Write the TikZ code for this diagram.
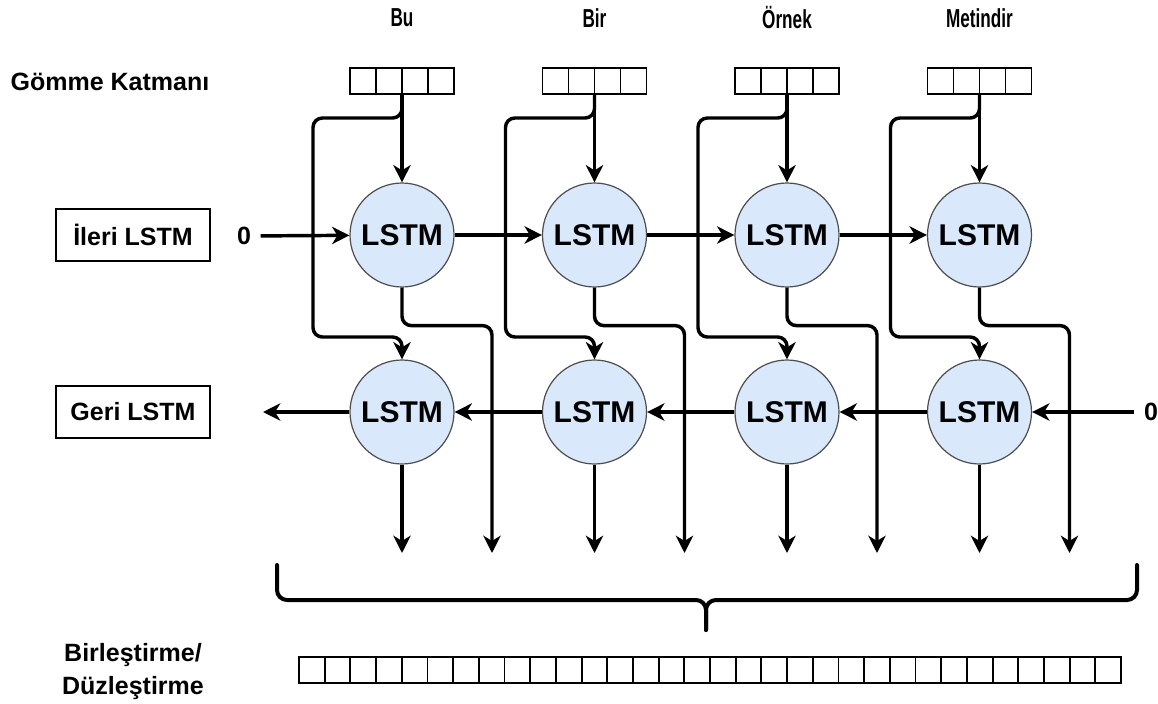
\documentclass[tikz,border=0pt]{standalone}
\usepackage{fontspec}
\setmainfont{Liberation Sans}
\usetikzlibrary{arrows.meta,positioning}
\definecolor{lstmfill}{HTML}{DAE8FC}
\definecolor{lstmline}{HTML}{4D4D4D}
\tikzset{
  lbl/.style={font=\fontsize{18.75}{24.75}\selectfont\bfseries,inner sep=0pt},
  word/.style={font=\fontsize{19.5}{22}\selectfont\bfseries,inner sep=0pt},
  lstm/.style={circle,draw=lstmline,line width=0.9pt,fill=lstmfill,minimum size=78pt,inner sep=0pt,font=\fontsize{22.5}{25}\selectfont\bfseries},
  layerbox/.style={draw,line width=1.5pt,minimum width=116pt,minimum height=39pt,outer sep=0pt,font=\fontsize{18.75}{24.75}\selectfont\bfseries},
  embbox/.style={draw,line width=1.4pt,minimum width=78pt,minimum height=19.5pt,inner sep=0pt,outer sep=0pt},
  barbox/.style={draw,line width=1.4pt,minimum width=616.5pt,minimum height=19.5pt,inner sep=0pt,outer sep=0pt},
  cellline/.style={line width=1.4pt},
  arr/.style={line width=2.6pt,-{Stealth[length=13pt,width=13pt,inset=4pt]}},
  brace/.style={line width=3pt,line cap=round,rounded corners=7.5pt}
}
\begin{document}
\begin{tikzpicture}[x=0.75pt,y=-0.75pt]
\pgfmathsetmacro{\colsep}{192.5}
\pgfmathsetmacro{\fy}{235}
\pgfmathsetmacro{\by}{412}
\useasboundingbox(0,0)rectangle(1158,704);
\node[lbl](gomme)at(110,82){Gömme Katmanı};
\node[layerbox](ileri)at(133,\fy){İleri LSTM};
\node[layerbox](geri)at(133,\by){Geri LSTM};
\node[lbl,align=center](birles)at(133,672){Birleştirme/\\Düzleştirme};
\foreach \i/\w in {1/Bu,2/Bir,3/Örnek,4/Metindir}{
  \pgfmathsetmacro{\cx}{402+(\i-1)*\colsep}
  \node[word](w\i)at(\cx,18){\scalebox{0.66}[1]{\w}};
  \node[embbox](e\i)at(\cx,81){};
  \foreach \k in {1,2,3}{\draw[cellline](\cx-52+26*\k,68)--++(0,26);}
  \node[lstm](f\i)at(\cx,\fy){LSTM};
  \node[lstm](b\i)at(\cx,\by){LSTM};
  \coordinate(o\i)at(\cx,553);
  \coordinate(p\i)at(\cx+90,553);
}
\foreach \i in {1,...,4}{
  \draw[arr](e\i.south)--(f\i.north);
  \draw[arr,rounded corners=7pt](e\i.south)--++(0,24)--++(-89,0)--++(0,219)--++(89,0)--(b\i.north);
  \draw[arr,rounded corners=7pt](f\i.south)--++(0,38)--++(90,0)--(p\i);
  \draw[arr](b\i.south)--(o\i);
}
\node[lbl,inner sep=7pt](zf)at(244,236){0};
\node[lbl,inner sep=7pt](zb)at(1151,412){0};
\coordinate(bout)at(263,412);
\draw[arr](zf)--(f1);
\draw[arr](zb)--(b4);
\foreach \i/\j in {1/2,2/3,3/4}{
  \draw[arr](f\i)--(f\j);
  \draw[arr](b\j)--(b\i);
}
\draw[arr](b1)--(bout);
\draw[brace](277,565)|-(706,600)--(706,630);
\draw[brace](1137,565)|-(706,600)--(706,630);
\node[barbox](bar)at(710,670){};
\foreach \k in {1,...,31}{\draw[cellline](299+822/32*\k,657)--++(0,26);}
\end{tikzpicture}
\end{document}
